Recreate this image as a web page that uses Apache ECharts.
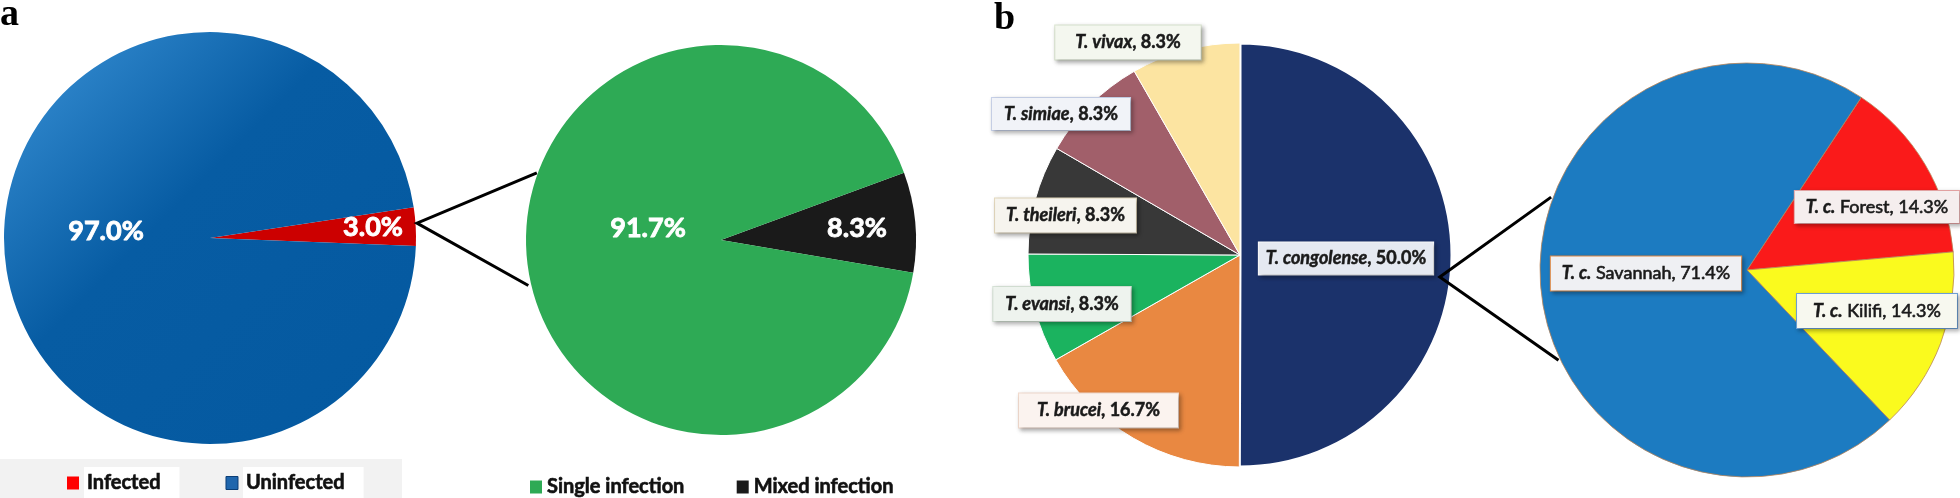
<!DOCTYPE html>
<html><head><meta charset="utf-8">
<script src="https://cdn.jsdelivr.net/npm/echarts@6/dist/echarts.min.js"></script>
<style>html,body{margin:0;padding:0;background:#fff}#c{width:1960px;height:498px}</style>
</head><body><div id="c"></div>
<script>
// ---- data ----
const infectionCats = ['Infected', 'Uninfected'];
const infectionVals = [3.0, 97.0];
const typeCats = ['Mixed infection', 'Single infection'];
const typeVals = [8.3, 91.7];
const speciesCats = ['T. congolense', 'T. brucei', 'T. evansi', 'T. theileri', 'T. simiae', 'T. vivax'];
const speciesVals = [50.0, 16.7, 8.3, 8.3, 8.3, 8.3];
const subCats = ['T. c. Forest', 'T. c. Kilifi', 'T. c. Savannah'];
const subVals = [14.3, 14.3, 71.4];

// ---- styles ----
const infectionColors = ['#cc0000', {type:'linear',x:0,y:0,x2:1,y2:1,colorStops:[{offset:0,color:'#3b93d8'},{offset:0.42,color:'#075ca3'},{offset:1,color:'#0459a0'}]}];
const typeColors = ['#1a1a1a', '#2eaa55'];
const speciesColors = ['#1b326b', '#e98841', '#1bb35f', '#383838', '#a15f6a', '#fce4a1'];
const subColors = ['#fa1a1a', '#fafa1e', '#1c7bc1'];

const P1 = {c:[210,238], r:206};
const P2 = {c:[721,240], r:195};
const P3 = {c:[1240,255], r:212};
const P4 = {c:[1747,270], r:207};

function pt(p, rr, deg){ const a = deg*Math.PI/180; return [p.c[0] + rr*Math.cos(a), p.c[1] - rr*Math.sin(a)]; }

// label centres (relative to pie centre)
const lblA = [[163,-11],[-104,-7]];
const lblB = [[136,-12],[-73,-12]];
const lblC = [[106,3.5],[-141.5,155.5],[-178,49],[-174.5,-39.5],[-179,-141],[-112,-212.5]];
const lblD = [[130,-63],[130,41],[-101,3.5]];

const boxC = [
  {bg:'#e5e9f1', bd:'#ffffff', pad:[6,7,6,7]},
  {bg:'#fbf3ef', bd:'#f3dccf', pad:[7,18,7,18]},
  {bg:'#eef3ee', bd:'#d8e4d8', pad:[7,12,7,12]},
  {bg:'#f6f4ee', bd:'#e4d9bd', pad:[7,11,7,11]},
  {bg:'#f1f3f8', bd:'#c8d2ea', pad:[6,12,6,12]},
  {bg:'#f4f7ef', bd:'#dbe6d1', pad:[7,20,7,20]}
];
const boxD = [
  {bg:'#f5eeee', bd:'#e9a7a7', pad:[6,11,6,11]},
  {bg:'#f7f8ef', bd:'#6fa3da', pad:[7,16,7,16]},
  {bg:'#eff0f3', bd:'#e08a45', pad:[7,11,7,11]}
];

const FONT = 'Lato, "Open Sans", sans-serif';

function pctLabel(){ return {show:true, position:'inside', color:'#fff', fontFamily:FONT, fontWeight:'bold', fontSize:27,
  textBorderColor:'#fff', textBorderWidth:0.9,
  formatter: p => p.value.toFixed(1) + '%'}; }

function layoutFn(P, offs){ return function(params){ const o = offs[params.dataIndex];
  return {x: P.c[0] + o[0], y: P.c[1] + o[1], align:'center', verticalAlign:'middle', hideOverlap:false}; }; }

const richC = {
  i:{fontFamily:FONT, fontWeight:'bold', fontStyle:'italic', fontSize:18, color:'#1a1a1a', textBorderColor:'#1a1a1a', textBorderWidth:0.5},
  n:{fontFamily:FONT, fontWeight:'bold', fontSize:18, color:'#1a1a1a', textBorderColor:'#1a1a1a', textBorderWidth:0.5}
};
const richD = {
  i:{fontFamily:FONT, fontWeight:'bold', fontStyle:'italic', fontSize:18, color:'#1a1a1a', textBorderColor:'#1a1a1a', textBorderWidth:0.5},
  n:{fontFamily:FONT, fontWeight:'normal', fontSize:18, color:'#1a1a1a', textBorderColor:'#1a1a1a', textBorderWidth:0.6}
};

const dataA = infectionCats.map((n,i)=>({name:n, value:infectionVals[i], itemStyle:{color:infectionColors[i]}}));
const dataB = typeCats.map((n,i)=>({name:n, value:typeVals[i], itemStyle:{color:typeColors[i]}}));
const dataC = speciesCats.map((n,i)=>({name:n, value:speciesVals[i],
  itemStyle:{color:speciesColors[i], borderColor:'#fff', borderWidth: i===0 ? 3 : 1},
  label:{backgroundColor:boxC[i].bg, borderColor:boxC[i].bd, borderWidth:1, padding:boxC[i].pad}}));
const dataD = subCats.map((n,i)=>({name:n, value:subVals[i],
  itemStyle:{color:subColors[i], borderColor:'#b98458', borderWidth:0.8},
  label:{backgroundColor:boxD[i].bg, borderColor:boxD[i].bd, borderWidth:1, padding:boxD[i].pad}}));

const boxLabelCommon = {show:true, position:'inside', shadowBlur:4, shadowColor:'rgba(0,0,0,0.28)', shadowOffsetX:2, shadowOffsetY:2, lineHeight:20};

const a1 = pt(P1, 207.5, 4.1), b1 = pt(P2, 196, 160), b2 = pt(P2, 198, 193.3);
const a3 = pt(P3, 201, -6.3), d1 = pt(P4, 209, 159.6), d2 = pt(P4, 209, 205.6);

const legendText = {fontFamily:FONT, fontWeight:'bold', fontSize:20, color:'#111', lineHeight:22, textBorderColor:'#111', textBorderWidth:0.6};

const option = {
  animation:false,
  backgroundColor:'#fff',
  legend:[
    {data:[{name:'Infected', itemStyle:{color:'#ff0000'}}, {name:'Uninfected', itemStyle:{color:'#1f66ad', borderColor:'#0b3d75', borderWidth:1}}],
     left:67, top:467, padding:0, itemGap:46, icon:'rect', itemWidth:12, itemHeight:13,
     textStyle:Object.assign({}, legendText, {backgroundColor:'#fff', padding:[5,19,5,3]})},
    {data:['Single infection','Mixed infection'], left:530, top:476, padding:0, itemGap:52, icon:'rect', itemWidth:12, itemHeight:13,
     textStyle:legendText}
  ],
  graphic:[
    {type:'rect', z:0, shape:{x:0, y:459, width:402, height:39}, style:{fill:'#f2f2f2'}},
    {type:'text', z:10, style:{text:'a', x:0, y:-4, font:'bold 38px "Liberation Serif", serif', fill:'#000'}},
    {type:'text', z:10, style:{text:'b', x:994, y:0, font:'bold 38px "Liberation Serif", serif', fill:'#000'}},
    {type:'polyline', z:10, shape:{points:[b1, a1, b2]}, style:{stroke:'#000', lineWidth:3, fill:null}},
    {type:'polyline', z:10, shape:{points:[d1, a3, d2]}, style:{stroke:'#000', lineWidth:3, fill:null}}
  ],
  series:[
    {type:'pie', center:P1.c, radius:[0,P1.r], startAngle:8.6, data:dataA, label:pctLabel(), labelLine:{show:false},
     labelLayout:layoutFn(P1, lblA), emphasis:{disabled:true}, legendHoverLink:false},
    {type:'pie', center:P2.c, radius:[0,P2.r], startAngle:20.2, data:dataB, label:pctLabel(), labelLine:{show:false},
     labelLayout:layoutFn(P2, lblB), emphasis:{disabled:true}},
    {type:'pie', center:P3.c, radius:[0,P3.r], startAngle:90, data:dataC,
     label:Object.assign({}, boxLabelCommon, {rich:richC, formatter:p => '{i|' + p.name + '}{n|, ' + p.value.toFixed(1) + '%}'}),
     labelLine:{show:false}, labelLayout:layoutFn(P3, lblC), emphasis:{disabled:true}},
    {type:'pie', center:P4.c, radius:[0,P4.r], startAngle:56.5, data:dataD,
     label:Object.assign({}, boxLabelCommon, {rich:richD, formatter:p => '{i|T. c.}{n| ' + p.name.replace('T. c. ','') + ', ' + p.value.toFixed(1) + '%}'}),
     labelLine:{show:false}, labelLayout:layoutFn(P4, lblD), emphasis:{disabled:true}}
  ]
};
const chart = echarts.init(document.getElementById('c'), null, {renderer:'canvas'});
chart.setOption(option);
</script></body></html>
